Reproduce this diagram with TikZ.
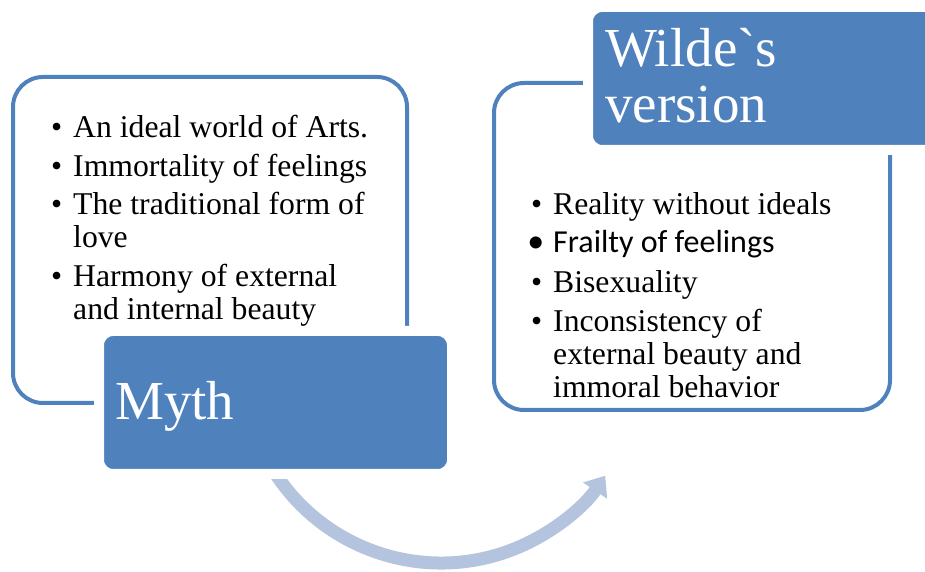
\documentclass[tikz,border=0pt]{standalone}
\usepackage{fontspec}
\newfontfamily\serif{Liberation Serif}
\newfontfamily\calib{Carlito}
\usetikzlibrary{arrows.meta,calc}
\definecolor{boxblue}{HTML}{4F81BD}
\definecolor{arrowblue}{RGB}{180,196,222}
\newcommand\itm{\llap{\textbullet\hspace{11pt}}}
\newcommand\itmc{\llap{{\calib\fontsize{34}{33}\selectfont\textbullet}\hspace{9pt}}}

\begin{document}
\begin{tikzpicture}[x=1pt,y=1pt,
  frame/.style={draw=boxblue,line width=4pt,rounded corners=30pt,inner sep=0pt,outer sep=0pt,anchor=south west},
  title/.style={fill=boxblue,draw=white,line width=10pt,rounded corners=14pt,inner sep=0pt,outer sep=0pt,anchor=south west},
  item/.style={anchor=base west,inner sep=0pt,font=\serif\fontsize{31.7}{33}\selectfont},
  head/.style={anchor=base west,inner sep=0pt,text=white,font=\serif\fontsize{55}{56}\selectfont}]
\useasboundingbox (0,0) rectangle (925,572);

\coordinate (c) at (441,207);
\coordinate (s) at ($(c)+(205:198pt)$);
\draw[arrowblue,line width=13pt,-{Triangle[length=18pt,width=28pt]}] (s) arc[start angle=205,end angle=326,radius=198pt];

\node[frame,minimum width=394pt,minimum height=326pt] (1) at (13,169) {};
\node[frame,minimum width=396pt,minimum height=327pt] (2) at (494,162) {};
\node[title,minimum width=353pt,minimum height=143pt] (3) at (99,98) {};
\node[title,minimum width=352pt,minimum height=143pt] (4) at (588,422) {};

\node[head] (5) at (115,152) {Myth};
\node[head] (6) at (605,505) {Wilde`s};
\node[head] (7) at (605,449) {version};

\node[item] (11) at (73,434) {\itm An ideal world of Arts.};
\node[item] (12) at (73,395) {\itm Immortality of feelings};
\node[item] (13) at (73,357) {\itm The traditional form of};
\node[item] (14) at (73,324) {love};
\node[item] (15) at (73,285) {\itm Harmony of external};
\node[item] (16) at (73,252) {and internal beauty};

\node[item] (21) at (553,357) {\itm Reality without ideals};
\node[item] (22) at (553,319) {\itmc{\calib\fontsize{32}{33}\selectfont Frailty of feelings}};
\node[item] (23) at (553,279) {\itm Bisexuality};
\node[item] (24) at (553,240) {\itm Inconsistency of};
\node[item] (25) at (553,207) {external beauty and};
\node[item] (26) at (553,174) {immoral behavior};

\end{tikzpicture}
\end{document}
